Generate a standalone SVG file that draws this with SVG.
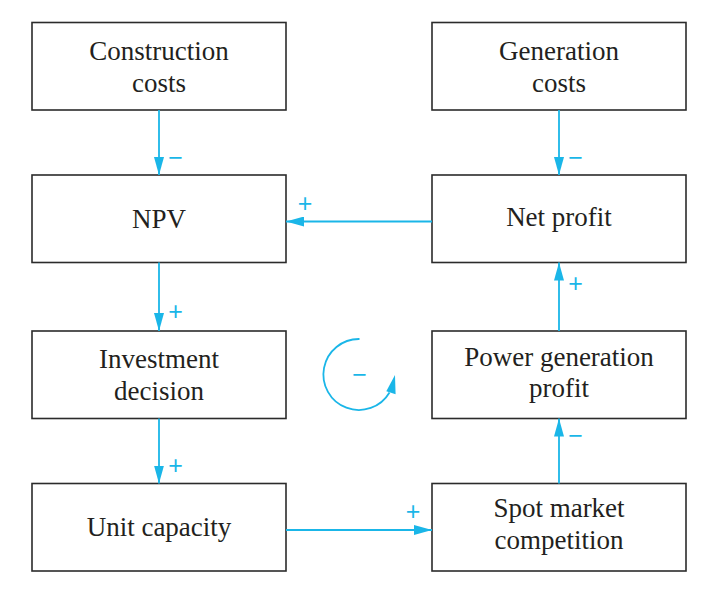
<svg xmlns="http://www.w3.org/2000/svg" width="717" height="589" viewBox="0 0 717 589">
<defs>
<style>
.box{fill:#fff;stroke:#2b2b2b;stroke-width:1.6}
.lbl{font-family:"Liberation Serif","Times New Roman",serif;font-size:27px;fill:#231f20;text-anchor:middle}
.con{stroke:#1ab6e8;stroke-width:1.8;fill:none}
.sign{font-family:"Liberation Sans",Arial,sans-serif;font-size:25px;font-weight:300;fill:#1ab6e8;text-anchor:middle}
</style>
<marker id="ah" viewBox="0 0 18 10" refX="18" refY="5" markerWidth="18" markerHeight="10" markerUnits="userSpaceOnUse" orient="auto">
<path d="M0,0 L18,5 L0,10 z" fill="#1ab6e8"/>
</marker>
</defs>
<rect width="717" height="589" fill="#fff"/>
<g id="construction-costs"><rect class="box" x="32" y="22.5" width="254" height="87.5"/><text class="lbl" x="159" y="60">Construction</text><text class="lbl" x="159" y="92">costs</text></g>
<g id="generation-costs"><rect class="box" x="432" y="22.5" width="254" height="87.5"/><text class="lbl" x="559" y="60">Generation</text><text class="lbl" x="559" y="92">costs</text></g>
<g id="npv"><rect class="box" x="32" y="175" width="254" height="87.5"/><text class="lbl" x="159" y="228">NPV</text></g>
<g id="net-profit"><rect class="box" x="432" y="175" width="254" height="87.5"/><text class="lbl" x="559" y="226">Net profit</text></g>
<g id="investment-decision"><rect class="box" x="32" y="331" width="254" height="87.5"/><text class="lbl" x="159" y="368">Investment</text><text class="lbl" x="159" y="400">decision</text></g>
<g id="power-generation-profit"><rect class="box" x="432" y="331" width="254" height="87.5"/><text class="lbl" x="559" y="366">Power generation</text><text class="lbl" x="559" y="397">profit</text></g>
<g id="unit-capacity"><rect class="box" x="32" y="483.5" width="254" height="87.5"/><text class="lbl" x="159" y="536">Unit capacity</text></g>
<g id="spot-market-competition"><rect class="box" x="432" y="483.5" width="254" height="87.5"/><text class="lbl" x="559" y="517">Spot market</text><text class="lbl" x="559" y="549">competition</text></g>
<g id="connectors">
<line class="con" x1="159" y1="110" x2="159" y2="175" marker-end="url(#ah)"/>
<line class="con" x1="559" y1="110" x2="559" y2="175" marker-end="url(#ah)"/>
<line class="con" x1="432" y1="221.5" x2="286" y2="221.5" marker-end="url(#ah)"/>
<line class="con" x1="159" y1="262.5" x2="159" y2="331" marker-end="url(#ah)"/>
<line class="con" x1="159" y1="418.5" x2="159" y2="483.5" marker-end="url(#ah)"/>
<line class="con" x1="286" y1="530" x2="432" y2="530" marker-end="url(#ah)"/>
<line class="con" x1="559" y1="483.5" x2="559" y2="418.5" marker-end="url(#ah)"/>
<line class="con" x1="559" y1="331" x2="559" y2="262.5" marker-end="url(#ah)"/>
<text class="sign" x="175.5" y="165.5">−</text>
<text class="sign" x="575.5" y="165.5">−</text>
<text class="sign" x="305" y="211.5">+</text>
<text class="sign" x="175.5" y="320">+</text>
<text class="sign" x="175.5" y="474">+</text>
<text class="sign" x="413" y="520">+</text>
<text class="sign" x="575.5" y="444">−</text>
<text class="sign" x="575.5" y="291.5">+</text>
</g>
<g id="loop">
<path class="con" d="M359.5,339 A35.5,35.5 0 1 0 389.5,392.5"/>
<polygon points="395,375 386.3,391.2 395.6,394.2" fill="#1ab6e8"/>
<text class="sign" x="359.5" y="383">−</text>
</g>
</svg>
